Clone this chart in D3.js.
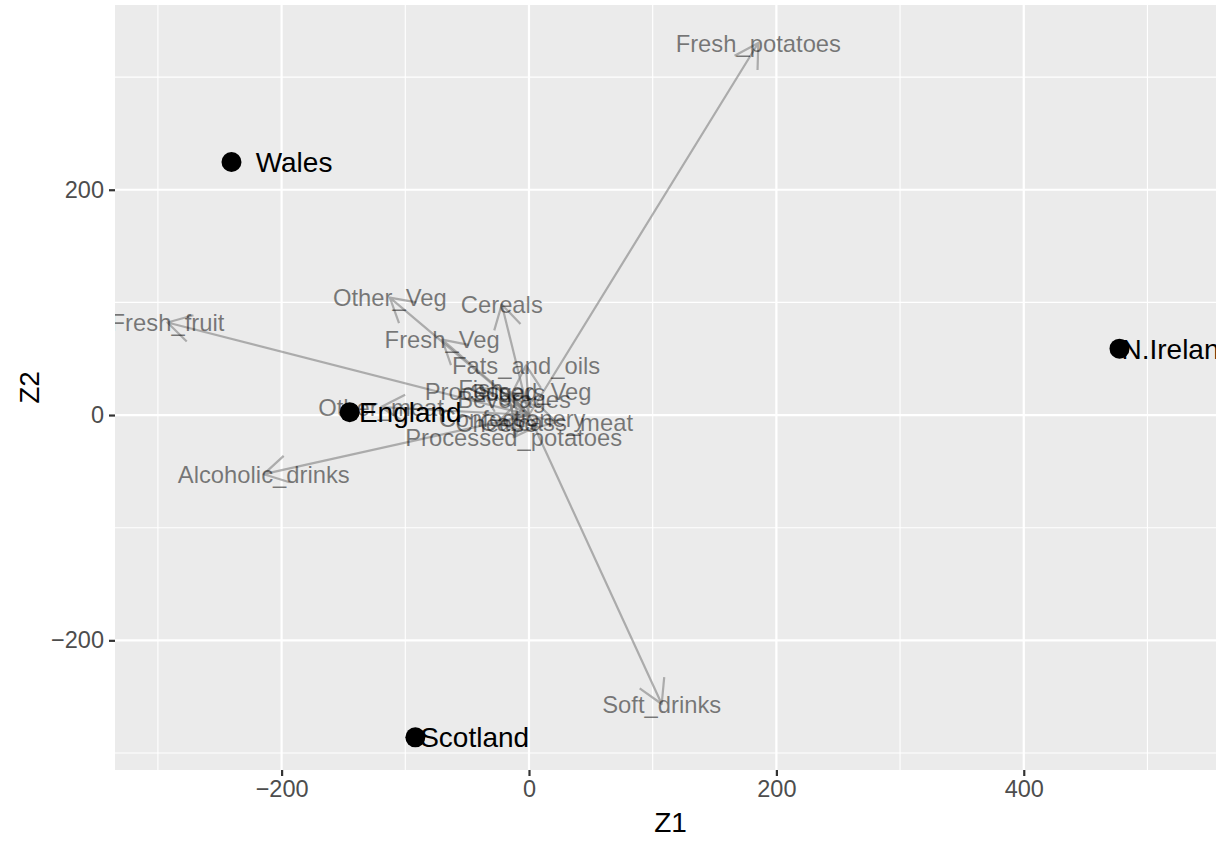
<!DOCTYPE html>
<html><head><meta charset="utf-8">
<script src="https://cdn.jsdelivr.net/npm/d3@7"></script>
<style>
body{margin:0;background:#fff;overflow:hidden}
text{font-family:"Liberation Sans",Arial,Helvetica,sans-serif}
</style>
</head><body><svg id="chart" width="1216" height="845"></svg>
<script>
// Observations (PC scores)
const countries = ["England", "Wales", "Scotland", "N.Ireland"];
const countryZ1 = [-144.99, -240.53, -91.87, 477.39];
const countryZ2 = [2.53, 224.65, -286.08, 58.90];
const countryLabelZ1 = [-137.5, -221, -88, 479];

// Variable arrows (scaled loadings, tip coordinates)
const foods = ["Cheese", "Carcass_meat", "Other_meat", "Fish", "Fats_and_oils", "Sugars",
  "Fresh_potatoes", "Fresh_Veg", "Other_Veg", "Processed_potatoes", "Processed_Veg",
  "Fresh_fruit", "Cereals", "Beverages", "Soft_drinks", "Alcoholic_drinks", "Confectionery"];
const foodZ1 = [-26.3, 22.1, -119.6, -39.0, -2.4, -17.4, 185.4, -70.2, -112.5, -12.4, -16.9,
  -292.3, -22.0, -12.1, 107.3, -214.4, -13.7];
const foodZ2 = [-7.4, -6.4, 7.1, 23.4, 44.1, 19.9, 330.3, 66.9, 104.2, -19.8, 21.0,
  82.1, 98.2, 14.1, -256.5, -52.5, -2.7];

const xMajor = [-200, 0, 200, 400];
const xMinor = [-300, -100, 100, 300, 500];
const yMajor = [-200, 0, 200];
const yMinor = [-300, -100, 100, 300];
const xTitle = "Z1", yTitle = "Z2";

const P = {left: 115, top: 5, right: 1226, bottom: 770};
const x = d3.scaleLinear().domain([-334.7, 563.5]).range([P.left, P.right]);
const y = d3.scaleLinear().domain([364.0, -315.1]).range([P.top, P.bottom]);

const svg = d3.select("#chart");
svg.append("defs").append("clipPath").attr("id", "clip")
  .append("rect").attr("x", P.left).attr("y", P.top)
  .attr("width", P.right - P.left).attr("height", P.bottom - P.top);

svg.append("rect").attr("x", P.left).attr("y", P.top)
  .attr("width", P.right - P.left).attr("height", P.bottom - P.top).attr("fill", "#ebebeb");

const grid = svg.append("g").attr("clip-path", "url(#clip)");
grid.selectAll(".vmin").data(xMinor).join("line")
  .attr("x1", d => x(d)).attr("x2", d => x(d)).attr("y1", P.top).attr("y2", P.bottom)
  .attr("stroke", "#fff").attr("stroke-width", 1.1);
grid.selectAll(".hmin").data(yMinor).join("line")
  .attr("y1", d => y(d)).attr("y2", d => y(d)).attr("x1", P.left).attr("x2", P.right)
  .attr("stroke", "#fff").attr("stroke-width", 1.1);
grid.selectAll(".vmaj").data(xMajor).join("line")
  .attr("x1", d => x(d)).attr("x2", d => x(d)).attr("y1", P.top).attr("y2", P.bottom)
  .attr("stroke", "#fff").attr("stroke-width", 2.2);
grid.selectAll(".hmaj").data(yMajor).join("line")
  .attr("y1", d => y(d)).attr("y2", d => y(d)).attr("x1", P.left).attr("x2", P.right)
  .attr("stroke", "#fff").attr("stroke-width", 2.2);

// Axes
const fmt = d => d < 0 ? "\u2212" + Math.abs(d) : String(d);
const xAxis = svg.append("g").attr("transform", `translate(0,${P.bottom})`)
  .call(d3.axisBottom(x).tickValues(xMajor).tickSize(6).tickPadding(4).tickFormat(fmt));
const yAxis = svg.append("g").attr("transform", `translate(${P.left},0)`)
  .call(d3.axisLeft(y).tickValues(yMajor).tickSize(6).tickPadding(5).tickFormat(fmt));
[xAxis, yAxis].forEach(a => {
  a.select(".domain").remove();
  a.selectAll(".tick line").attr("stroke", "#333").attr("stroke-width", 2.2);
  a.selectAll(".tick text").attr("fill", "#4d4d4d").attr("font-size", 23.5)
    .attr("font-family", '"Liberation Sans",Arial,Helvetica,sans-serif');
});

svg.append("text").attr("x", (P.left + P.right) / 2).attr("y", 832)
  .attr("text-anchor", "middle").attr("font-size", 28).attr("fill", "#000").text(xTitle);
svg.append("text").attr("transform", `translate(39,${(P.top + P.bottom) / 2}) rotate(-90)`)
  .attr("text-anchor", "middle").attr("font-size", 28).attr("fill", "#000").text(yTitle);

// Arrows
const plot = svg.append("g").attr("clip-path", "url(#clip)");
const headLen = 27, headAng = Math.PI / 6;
const x0 = x(0), y0 = y(0);
plot.selectAll(".arrow").data(foods.map((f, i) => i)).join("path")
  .attr("d", i => {
    const tx = x(foodZ1[i]), ty = y(foodZ2[i]);
    const a = Math.atan2(ty - y0, tx - x0);
    const b1x = tx - headLen * Math.cos(a - headAng), b1y = ty - headLen * Math.sin(a - headAng);
    const b2x = tx - headLen * Math.cos(a + headAng), b2y = ty - headLen * Math.sin(a + headAng);
    return `M${x0},${y0}L${tx},${ty}M${b1x},${b1y}L${tx},${ty}L${b2x},${b2y}`;
  })
  .attr("fill", "none").attr("stroke", "#808080").attr("stroke-opacity", 0.6)
  .attr("stroke-width", 2.2).attr("stroke-linejoin", "round");

plot.selectAll(".flab").data(foods.map((f, i) => i)).join("text")
  .attr("x", i => x(foodZ1[i])).attr("y", i => y(foodZ2[i])).attr("dy", "0.36em")
  .attr("text-anchor", "middle").attr("font-size", 23.8)
  .attr("fill", "#000").attr("fill-opacity", 0.5).text(i => foods[i]);

// Points
plot.selectAll(".pt").data(countries.map((c, i) => i)).join("circle")
  .attr("cx", i => x(countryZ1[i])).attr("cy", i => y(countryZ2[i])).attr("r", 10)
  .attr("fill", "#000");
plot.selectAll(".clab").data(countries.map((c, i) => i)).join("text")
  .attr("x", i => x(countryLabelZ1[i])).attr("y", i => y(countryZ2[i])).attr("dy", "0.36em")
  .attr("font-size", 28).attr("fill", "#000").text(i => countries[i]);
</script>
</body></html>
